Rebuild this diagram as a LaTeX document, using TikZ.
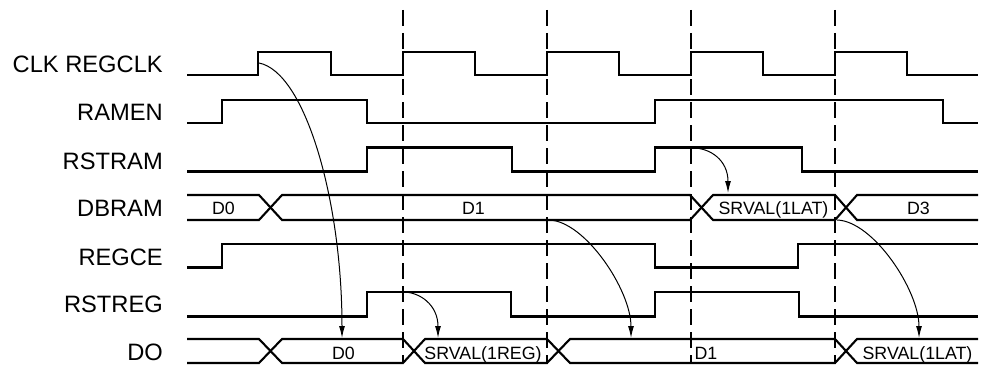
\documentclass[tikz,border=0pt]{standalone}
\usepackage{fontspec}
\setmainfont{Liberation Sans}
\usetikzlibrary{arrows.meta}
\begin{document}
\begin{tikzpicture}[x=1pt,y=-1pt,
  sig/.style={line width=2.6pt},
  bus/.style={line width=2.1pt},
  gridline/.style={line width=1.1pt, dash pattern=on 16pt off 7pt},
  causal/.style={line width=1pt,-{Latex[length=12pt,width=6pt]}},
  lbl/.style={anchor=base east, inner sep=0pt, font=\fontsize{23.7}{24}\selectfont},
  val/.style={anchor=base, inner sep=0pt, font=\fontsize{17.8}{18}\selectfont}]
\useasboundingbox (0,0) rectangle (981,369);

% clock edge guides
\foreach \x in {403,547,691,835} \draw[gridline] (\x,10) -- (\x,363);

% signal names
\node[lbl] (lclk) at (163,72.3) {CLK REGCLK};
\node[lbl] (lramen) at (163,120) {RAMEN};
\node[lbl] (lrstram) at (163,169) {RSTRAM};
\node[lbl] (ldbram) at (163,216) {DBRAM};
\node[lbl] (lregce) at (163,265) {REGCE};
\node[lbl] (lrstreg) at (163,312) {RSTREG};
\node[lbl] (ldo) at (163,360) {DO};

% CLK REGCLK
\draw[sig] (187,75) -- (258,75) -- (258,52) -- (331,52) -- (331,75) -- (403,75) -- (403,52)
  -- (475,52) -- (475,75) -- (547,75) -- (547,52) -- (619,52) -- (619,75) -- (691,75)
  -- (691,52) -- (763,52) -- (763,75) -- (835,75) -- (835,52) -- (907,52) -- (907,75) -- (978,75);
% RAMEN
\draw[sig] (187,123) -- (222,123) -- (222,100) -- (367,100) -- (367,123) -- (655,123)
  -- (655,100) -- (943,100) -- (943,123) -- (978,123);
% RSTRAM
\draw[sig] (187,171.5) -- (367,171.5) -- (367,147.5) -- (512,147.5) -- (512,171.5) -- (655,171.5)
  -- (655,147.5) -- (802,147.5) -- (802,171.5) -- (978,171.5);
% DBRAM
\draw[bus] (187,195) -- (259,195) -- (282,220) -- (690,220) -- (713,195) -- (835,195) -- (857,220) -- (978,220);
\draw[bus] (187,220) -- (259,220) -- (282,195) -- (690,195) -- (713,220) -- (835,220) -- (857,195) -- (978,195);
% REGCE
\draw[sig] (187,267.5) -- (222,267.5) -- (222,244) -- (655,244) -- (655,267.5) -- (798,267.5)
  -- (798,244) -- (978,244);
% RSTREG
\draw[sig] (187,316.5) -- (367,316.5) -- (367,292) -- (511,292) -- (511,316.5) -- (655,316.5)
  -- (655,292) -- (799,292) -- (799,316.5) -- (978,316.5);
% DO
\draw[bus] (187,339) -- (259,339) -- (282,363) -- (403,363) -- (425,339) -- (547,339) -- (570,363)
  -- (835,363) -- (857,339) -- (978,339);
\draw[bus] (187,363) -- (259,363) -- (282,339) -- (403,339) -- (425,363) -- (547,363) -- (570,339)
  -- (835,339) -- (857,363) -- (978,363);

% bus values
\node[val] (vdb0) at (223.5,214.3) {D0};
\node[val] (vdb1) at (473.5,214.3) {D1};
\node[val] (vdbs) at (773.5,214.3) {SRVAL(1LAT)};
\node[val] (vdb3) at (918.5,214.3) {D3};
\node[val] (vdo0) at (343.5,359.5) {D0};
\node[val] (vdos) at (483,359.5) {SRVAL(1REG)};
\node[val] (vdo1) at (706,359.5) {D1};
\node[val] (vdol) at (917.5,359.5) {SRVAL(1LAT)};

% cause-effect arrows
\coordinate (c1s) at (259,63);   \coordinate (c1e) at (342,338);
\coordinate (c2s) at (693,148);  \coordinate (c2e) at (728,193);
\coordinate (c3s) at (403,292);  \coordinate (c3e) at (438,338);
\coordinate (c4s) at (549,220);  \coordinate (c4e) at (631,338);
\coordinate (c5s) at (837,220);  \coordinate (c5e) at (919,338);
\draw[causal] (c1s) .. controls (305,72) and (342,200) .. (c1e);
\draw[causal] (c2s) .. controls (710,148) and (728,160) .. (c2e);
\draw[causal] (c3s) .. controls (420,292) and (438,305) .. (c3e);
\draw[causal] (c4s) .. controls (585,221) and (631,290) .. (c4e);
\draw[causal] (c5s) .. controls (873,221) and (919,290) .. (c5e);
\end{tikzpicture}
\end{document}
